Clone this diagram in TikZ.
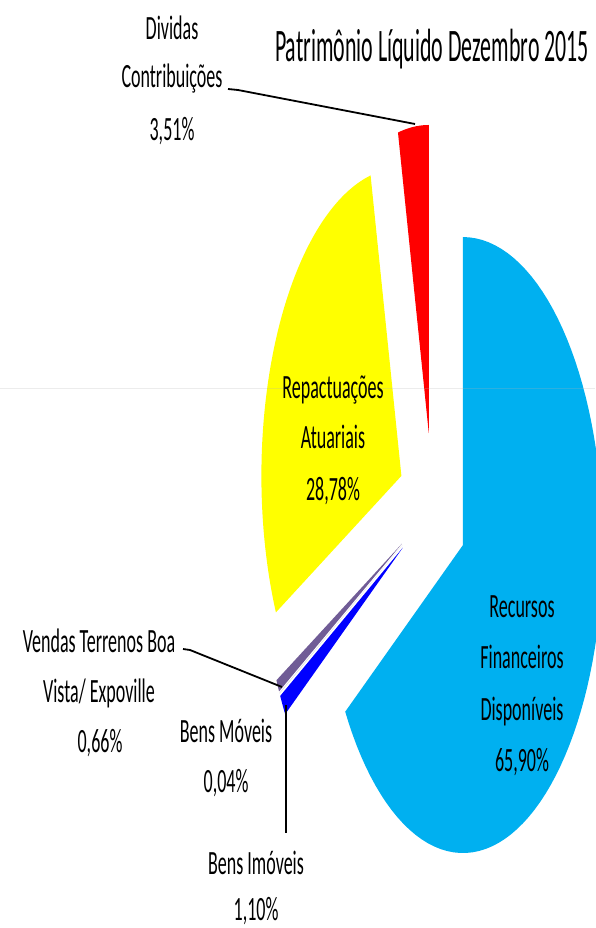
\documentclass[tikz,border=0pt]{standalone}
\usepackage{fontspec}
\newfontfamily\labfont[FakeStretch=0.53]{Carlito}
\newfontfamily\titfont[FakeStretch=0.47]{Carlito}
\definecolor{cblue}{HTML}{00B0F0}
\definecolor{cyel}{HTML}{FFFF00}
\definecolor{cred}{HTML}{FF0000}
\definecolor{cdblue}{HTML}{0000FF}
\definecolor{cpurp}{HTML}{705C96}
\definecolor{cgray}{HTML}{D9D9D9}
\newcommand\pieslice[4]{%
  \pgfmathsetmacro\slmid{(#2+#3)/2}%
  \pgfmathsetmacro\slax{432.6+#4*140*cos(\slmid)}%
  \pgfmathsetmacro\slay{508.6-#4*308*sin(\slmid)}%
  \fill[#1] (\slax,\slay) -- plot[domain=#2:#3,samples=90] ({\slax+140*cos(\x)},{\slay-308*sin(\x)}) -- cycle;}
\tikzset{
  lab/.style={font=\labfont\fontsize{34}{40}\selectfont, inner sep=0pt, anchor=base, text=black},
  titl/.style={font=\titfont\fontsize{46.6}{52}\selectfont, inner sep=0pt, anchor=base, text=black},
  leader/.style={draw=black, line width=1.8pt},
}
\begin{document}
\begin{tikzpicture}[x=1pt,y=-1pt]
\useasboundingbox (0,0) rectangle (595,928);
% slices
\pieslice{cblue}{-147.24}{90}{0.247}
\pieslice{cdblue}{-151.2}{-147.24}{0.247}
\pieslice{cgray}{-151.344}{-151.2}{0.247}
\pieslice{cpurp}{-153.684}{-151.344}{0.247}
\pieslice{cyel}{-257.29}{-153.684}{0.247}
\pieslice{cred}{90}{102.71}{0.247}
% faint artefact line
\draw[gray!60, opacity=0.25, line width=0.6pt] (0,388) -- (595,388);
% title
\node[titl] (title) at (432,62) {Patrimônio Líquido Dezembro 2015};
% labels
\node[lab] (divA) at (172,40) {Dividas};
\node[lab] (divB) at (172,88) {Contribuições};
\node[lab] (divC) at (172,141) {3,51\%};
\node[lab] (repA) at (333,398) {Repactuações};
\node[lab] (repB) at (333,448) {Atuariais};
\node[lab] (repC) at (333,500) {28,78\%};
\node[lab] (recA) at (522,617) {Recursos};
\node[lab] (recB) at (522,668) {Financeiros};
\node[lab] (recC) at (522,720) {Disponíveis};
\node[lab] (recD) at (522,771) {65,90\%};
\node[lab] (venA) at (99,652) {Vendas Terrenos Boa};
\node[lab] (venB) at (99,702) {Vista/ Expoville};
\node[lab] (venC) at (100,752) {0,66\%};
\node[lab] (movA) at (226,742) {Bens Móveis};
\node[lab] (movB) at (226,792) {0,04\%};
\node[lab] (imoA) at (256,874) {Bens Imóveis};
\node[lab] (imoB) at (256,920) {1,10\%};
% leader lines
\coordinate (divS) at (228,89);
\coordinate (divK) at (238,90);
\coordinate (redP) at (415,124);
\coordinate (venS) at (183,649);
\coordinate (venK) at (190,650);
\coordinate (purP) at (282,687);
\coordinate (imoP) at (286,705);
\coordinate (imoE) at (286,833);
\draw[leader] (divS) -- (divK) -- (redP);
\draw[leader] (venS) -- (venK) -- (purP);
\draw[leader] (imoP) -- (imoE);
\end{tikzpicture}
\end{document}
